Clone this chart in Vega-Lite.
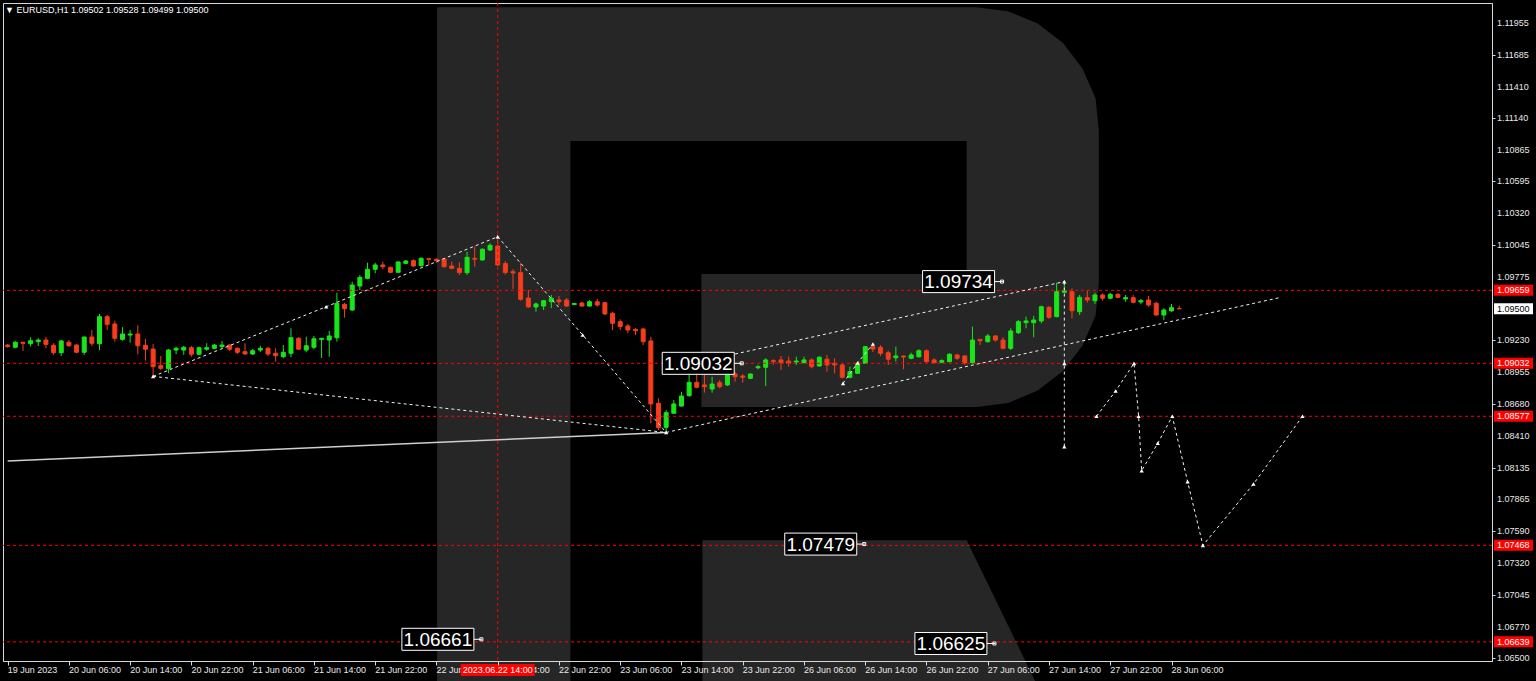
{
  "$schema": "https://vega.github.io/schema/vega-lite/v6.json",
  "width": 1489,
  "height": 658,
  "autosize": {"type": "none"},
  "padding": {"left": 3, "top": 3, "right": 44, "bottom": 20},
  "background": "#000000",
  "title": {"text": "▼ EURUSD,H1  1.09502 1.09528 1.09499 1.09500", "anchor": "start", "frame": "group", "orient": "top", "offset": 0, "baseline": "middle", "dy": 16, "dx": 2, "font": "Liberation Sans", "fontSize": 9, "fontWeight": "normal", "color": "#ffffff"},
  "config": {"view": {"stroke": "#d8d8d8", "fill": "#000000"}, "font": "Liberation Sans"},
  "datasets": {
    "wm": [
      {"part": "stem", "i": 48.09, "t": 1.12092, "b": 1.06302},
      {"part": "stem", "i": 65.5, "t": 1.12092, "b": 1.06302},
      {"part": "top", "i": 65.2, "t": 1.12092, "b": 1.10941},
      {"part": "top", "i": 117.4, "t": 1.12092, "b": 1.10941},
      {"part": "right", "i": 117.24, "t": 1.12092, "b": 1.08656},
      {"part": "right", "i": 118.54, "t": 1.12092, "b": 1.08656},
      {"part": "right", "i": 122.67, "t": 1.12056, "b": 1.08692},
      {"part": "right", "i": 126.52, "t": 1.11951, "b": 1.08798},
      {"part": "right", "i": 129.83, "t": 1.11783, "b": 1.08965},
      {"part": "right", "i": 132.36, "t": 1.11564, "b": 1.09184},
      {"part": "right", "i": 134.08, "t": 1.11309, "b": 1.0944},
      {"part": "right", "i": 134.5, "t": 1.11036, "b": 1.09713},
      {"part": "bowl", "i": 82.6, "t": 1.09799, "b": 1.08656},
      {"part": "bowl", "i": 117.4, "t": 1.09799, "b": 1.08656},
      {"part": "leg", "i": 82.73, "t": 1.07513, "b": 1.06302},
      {"part": "leg", "i": 117.24, "t": 1.07513, "b": 1.06302},
      {"part": "leg", "i": 126.19, "t": 1.06302, "b": 1.06302}
    ],
    "candles": [
      {"i": -8, "o": 1.09189, "h": 1.09198, "l": 1.09168, "c": 1.09175},
      {"i": -7, "o": 1.0917, "h": 1.09224, "l": 1.09161, "c": 1.09213},
      {"i": -6, "o": 1.09213, "h": 1.09215, "l": 1.09138, "c": 1.09204},
      {"i": -5, "o": 1.09201, "h": 1.09256, "l": 1.09175, "c": 1.09226},
      {"i": -4, "o": 1.09218, "h": 1.09247, "l": 1.09181, "c": 1.09232},
      {"i": -3, "o": 1.09232, "h": 1.09261, "l": 1.09161, "c": 1.09195},
      {"i": -2, "o": 1.09187, "h": 1.09204, "l": 1.09104, "c": 1.09123},
      {"i": -1, "o": 1.09123, "h": 1.09232, "l": 1.09095, "c": 1.09224},
      {"i": 0, "o": 1.09213, "h": 1.09232, "l": 1.09175, "c": 1.09183},
      {"i": 1, "o": 1.09189, "h": 1.09198, "l": 1.09118, "c": 1.09127},
      {"i": 2, "o": 1.09127, "h": 1.09261, "l": 1.09104, "c": 1.09258},
      {"i": 3, "o": 1.09258, "h": 1.09318, "l": 1.09181, "c": 1.09204},
      {"i": 4, "o": 1.09201, "h": 1.09456, "l": 1.09146, "c": 1.09433},
      {"i": 5, "o": 1.09433, "h": 1.09447, "l": 1.09318, "c": 1.09367},
      {"i": 6, "o": 1.0937, "h": 1.09398, "l": 1.09218, "c": 1.09247},
      {"i": 7, "o": 1.09238, "h": 1.09342, "l": 1.09226, "c": 1.09284},
      {"i": 8, "o": 1.09275, "h": 1.09318, "l": 1.09209, "c": 1.09284},
      {"i": 9, "o": 1.09284, "h": 1.09359, "l": 1.0911, "c": 1.09183},
      {"i": 10, "o": 1.09187, "h": 1.09241, "l": 1.09055, "c": 1.09153},
      {"i": 11, "o": 1.09155, "h": 1.09198, "l": 1.08923, "c": 1.09003},
      {"i": 12, "o": 1.09012, "h": 1.09095, "l": 1.08975, "c": 1.08989},
      {"i": 13, "o": 1.08986, "h": 1.09155, "l": 1.08946, "c": 1.09146},
      {"i": 14, "o": 1.09146, "h": 1.09175, "l": 1.0911, "c": 1.09161},
      {"i": 15, "o": 1.09146, "h": 1.09181, "l": 1.09104, "c": 1.0917},
      {"i": 16, "o": 1.09166, "h": 1.09181, "l": 1.09089, "c": 1.0911},
      {"i": 17, "o": 1.0911, "h": 1.09175, "l": 1.09104, "c": 1.09166},
      {"i": 18, "o": 1.09153, "h": 1.09204, "l": 1.0914, "c": 1.09166},
      {"i": 19, "o": 1.09161, "h": 1.09198, "l": 1.09153, "c": 1.09189},
      {"i": 20, "o": 1.09175, "h": 1.09224, "l": 1.09161, "c": 1.09189},
      {"i": 21, "o": 1.09189, "h": 1.09198, "l": 1.09138, "c": 1.09153},
      {"i": 22, "o": 1.09161, "h": 1.0917, "l": 1.09112, "c": 1.09127},
      {"i": 23, "o": 1.09132, "h": 1.09204, "l": 1.09104, "c": 1.09112},
      {"i": 24, "o": 1.09112, "h": 1.09155, "l": 1.09104, "c": 1.0914},
      {"i": 25, "o": 1.09146, "h": 1.09183, "l": 1.09127, "c": 1.09161},
      {"i": 26, "o": 1.09161, "h": 1.09175, "l": 1.09095, "c": 1.09112},
      {"i": 27, "o": 1.09118, "h": 1.09161, "l": 1.09046, "c": 1.09097},
      {"i": 28, "o": 1.09089, "h": 1.09189, "l": 1.09075, "c": 1.09127},
      {"i": 29, "o": 1.09118, "h": 1.09333, "l": 1.09084, "c": 1.09252},
      {"i": 30, "o": 1.09247, "h": 1.09256, "l": 1.09146, "c": 1.09153},
      {"i": 31, "o": 1.09146, "h": 1.09261, "l": 1.09127, "c": 1.09183},
      {"i": 32, "o": 1.0917, "h": 1.09267, "l": 1.09153, "c": 1.09243},
      {"i": 33, "o": 1.09238, "h": 1.0925, "l": 1.09078, "c": 1.09247},
      {"i": 34, "o": 1.09232, "h": 1.0931, "l": 1.09089, "c": 1.09267},
      {"i": 35, "o": 1.09252, "h": 1.09639, "l": 1.09218, "c": 1.09548},
      {"i": 36, "o": 1.09539, "h": 1.09553, "l": 1.09424, "c": 1.09501},
      {"i": 37, "o": 1.0949, "h": 1.09733, "l": 1.09482, "c": 1.09705},
      {"i": 38, "o": 1.09696, "h": 1.09791, "l": 1.09662, "c": 1.09771},
      {"i": 39, "o": 1.09762, "h": 1.09896, "l": 1.09754, "c": 1.0984},
      {"i": 40, "o": 1.0984, "h": 1.09896, "l": 1.09805, "c": 1.09877},
      {"i": 41, "o": 1.09877, "h": 1.09905, "l": 1.0984, "c": 1.09862},
      {"i": 42, "o": 1.09857, "h": 1.09862, "l": 1.09805, "c": 1.09814},
      {"i": 43, "o": 1.09814, "h": 1.09905, "l": 1.09811, "c": 1.09903},
      {"i": 44, "o": 1.09891, "h": 1.0992, "l": 1.09883, "c": 1.09911},
      {"i": 45, "o": 1.09914, "h": 1.09926, "l": 1.0986, "c": 1.09868},
      {"i": 46, "o": 1.09871, "h": 1.09943, "l": 1.09862, "c": 1.09934},
      {"i": 47, "o": 1.09931, "h": 1.09933, "l": 1.09877, "c": 1.09926},
      {"i": 48, "o": 1.09926, "h": 1.09934, "l": 1.09896, "c": 1.09914},
      {"i": 49, "o": 1.09928, "h": 1.09937, "l": 1.09854, "c": 1.09862},
      {"i": 50, "o": 1.09868, "h": 1.09905, "l": 1.0984, "c": 1.09848},
      {"i": 51, "o": 1.09848, "h": 1.099, "l": 1.09791, "c": 1.09811},
      {"i": 52, "o": 1.09811, "h": 1.09991, "l": 1.09791, "c": 1.09943},
      {"i": 53, "o": 1.09934, "h": 1.10034, "l": 1.09862, "c": 1.09926},
      {"i": 54, "o": 1.0992, "h": 1.1002, "l": 1.09914, "c": 1.10012},
      {"i": 55, "o": 1.10006, "h": 1.10063, "l": 1.09997, "c": 1.10046},
      {"i": 56, "o": 1.1004, "h": 1.1012, "l": 1.09868, "c": 1.09877},
      {"i": 57, "o": 1.0989, "h": 1.09911, "l": 1.09795, "c": 1.09812},
      {"i": 58, "o": 1.09819, "h": 1.09842, "l": 1.09671, "c": 1.09808},
      {"i": 59, "o": 1.09811, "h": 1.09894, "l": 1.0957, "c": 1.09582},
      {"i": 60, "o": 1.09593, "h": 1.09662, "l": 1.0951, "c": 1.09516},
      {"i": 61, "o": 1.09516, "h": 1.09553, "l": 1.09475, "c": 1.09542},
      {"i": 62, "o": 1.09524, "h": 1.09576, "l": 1.0949, "c": 1.0957},
      {"i": 63, "o": 1.09561, "h": 1.09619, "l": 1.09507, "c": 1.09591},
      {"i": 64, "o": 1.09576, "h": 1.0961, "l": 1.09533, "c": 1.09561},
      {"i": 65, "o": 1.09576, "h": 1.09593, "l": 1.09518, "c": 1.09524},
      {"i": 66, "o": 1.09537, "h": 1.0955, "l": 1.09533, "c": 1.09546},
      {"i": 67, "o": 1.0955, "h": 1.09561, "l": 1.09518, "c": 1.09524},
      {"i": 68, "o": 1.09524, "h": 1.09576, "l": 1.09518, "c": 1.09561},
      {"i": 69, "o": 1.09561, "h": 1.09585, "l": 1.09518, "c": 1.09533},
      {"i": 70, "o": 1.09553, "h": 1.09561, "l": 1.09447, "c": 1.09456},
      {"i": 71, "o": 1.09462, "h": 1.09475, "l": 1.09318, "c": 1.09376},
      {"i": 72, "o": 1.0939, "h": 1.0941, "l": 1.09318, "c": 1.09347},
      {"i": 73, "o": 1.09353, "h": 1.0937, "l": 1.0929, "c": 1.09318},
      {"i": 74, "o": 1.09324, "h": 1.09333, "l": 1.09275, "c": 1.09312},
      {"i": 75, "o": 1.09327, "h": 1.09338, "l": 1.09189, "c": 1.09218},
      {"i": 76, "o": 1.09224, "h": 1.09261, "l": 1.08517, "c": 1.08683},
      {"i": 77, "o": 1.08689, "h": 1.08732, "l": 1.08459, "c": 1.08479},
      {"i": 78, "o": 1.08482, "h": 1.08631, "l": 1.08431, "c": 1.08608},
      {"i": 79, "o": 1.08603, "h": 1.08717, "l": 1.08597, "c": 1.08683},
      {"i": 80, "o": 1.08665, "h": 1.08788, "l": 1.08659, "c": 1.08751},
      {"i": 81, "o": 1.08754, "h": 1.08951, "l": 1.08745, "c": 1.08869},
      {"i": 82, "o": 1.08869, "h": 1.08975, "l": 1.08817, "c": 1.08826},
      {"i": 83, "o": 1.08846, "h": 1.08975, "l": 1.0878, "c": 1.08831},
      {"i": 84, "o": 1.08811, "h": 1.08917, "l": 1.0878, "c": 1.08854},
      {"i": 85, "o": 1.08866, "h": 1.08889, "l": 1.08817, "c": 1.08831},
      {"i": 86, "o": 1.08846, "h": 1.09018, "l": 1.08837, "c": 1.0896},
      {"i": 87, "o": 1.0894, "h": 1.0896, "l": 1.08874, "c": 1.08917},
      {"i": 88, "o": 1.08923, "h": 1.0894, "l": 1.08866, "c": 1.08912},
      {"i": 89, "o": 1.08903, "h": 1.08946, "l": 1.08897, "c": 1.0894},
      {"i": 90, "o": 1.08994, "h": 1.09018, "l": 1.08981, "c": 1.09003},
      {"i": 91, "o": 1.08998, "h": 1.09075, "l": 1.08837, "c": 1.09061},
      {"i": 92, "o": 1.09055, "h": 1.09067, "l": 1.09018, "c": 1.09046},
      {"i": 93, "o": 1.09061, "h": 1.09095, "l": 1.08975, "c": 1.09037},
      {"i": 94, "o": 1.09052, "h": 1.09089, "l": 1.09003, "c": 1.09032},
      {"i": 95, "o": 1.09043, "h": 1.09089, "l": 1.09018, "c": 1.09052},
      {"i": 96, "o": 1.09037, "h": 1.09089, "l": 1.09032, "c": 1.09061},
      {"i": 97, "o": 1.09061, "h": 1.09075, "l": 1.08989, "c": 1.09003},
      {"i": 98, "o": 1.09009, "h": 1.09095, "l": 1.09003, "c": 1.09084},
      {"i": 99, "o": 1.09067, "h": 1.09104, "l": 1.0896, "c": 1.09018},
      {"i": 100, "o": 1.09032, "h": 1.09075, "l": 1.08946, "c": 1.09018},
      {"i": 101, "o": 1.09018, "h": 1.09032, "l": 1.08903, "c": 1.08912},
      {"i": 102, "o": 1.08912, "h": 1.09003, "l": 1.08903, "c": 1.0896},
      {"i": 103, "o": 1.08946, "h": 1.09046, "l": 1.0894, "c": 1.09032},
      {"i": 104, "o": 1.09032, "h": 1.09181, "l": 1.09026, "c": 1.09175},
      {"i": 105, "o": 1.09176, "h": 1.09198, "l": 1.09129, "c": 1.09155},
      {"i": 106, "o": 1.0917, "h": 1.09189, "l": 1.09095, "c": 1.09118},
      {"i": 107, "o": 1.09123, "h": 1.0914, "l": 1.09018, "c": 1.09067},
      {"i": 108, "o": 1.0908, "h": 1.09175, "l": 1.09046, "c": 1.09095},
      {"i": 109, "o": 1.09095, "h": 1.09099, "l": 1.08981, "c": 1.09086},
      {"i": 110, "o": 1.09075, "h": 1.09123, "l": 1.09067, "c": 1.09104},
      {"i": 111, "o": 1.09089, "h": 1.09153, "l": 1.0908, "c": 1.0914},
      {"i": 112, "o": 1.0914, "h": 1.09153, "l": 1.09037, "c": 1.09046},
      {"i": 113, "o": 1.09061, "h": 1.09075, "l": 1.09032, "c": 1.09037},
      {"i": 114, "o": 1.09041, "h": 1.09067, "l": 1.09032, "c": 1.09055},
      {"i": 115, "o": 1.09046, "h": 1.09118, "l": 1.09041, "c": 1.0911},
      {"i": 116, "o": 1.09104, "h": 1.09112, "l": 1.09061, "c": 1.09075},
      {"i": 117, "o": 1.09095, "h": 1.09104, "l": 1.09018, "c": 1.09037},
      {"i": 118, "o": 1.09037, "h": 1.09347, "l": 1.09032, "c": 1.09232},
      {"i": 119, "o": 1.09238, "h": 1.09241, "l": 1.09189, "c": 1.09226},
      {"i": 120, "o": 1.09218, "h": 1.09284, "l": 1.09209, "c": 1.09267},
      {"i": 121, "o": 1.09267, "h": 1.09275, "l": 1.09218, "c": 1.09232},
      {"i": 122, "o": 1.09232, "h": 1.09256, "l": 1.09153, "c": 1.09161},
      {"i": 123, "o": 1.09161, "h": 1.09333, "l": 1.09146, "c": 1.0931},
      {"i": 124, "o": 1.09295, "h": 1.09404, "l": 1.09284, "c": 1.0939},
      {"i": 125, "o": 1.09381, "h": 1.09433, "l": 1.09333, "c": 1.09396},
      {"i": 126, "o": 1.09381, "h": 1.09439, "l": 1.09256, "c": 1.09404},
      {"i": 127, "o": 1.09396, "h": 1.09527, "l": 1.09376, "c": 1.09518},
      {"i": 128, "o": 1.09513, "h": 1.09524, "l": 1.09413, "c": 1.09427},
      {"i": 129, "o": 1.09433, "h": 1.09725, "l": 1.09427, "c": 1.09647},
      {"i": 130, "o": 1.09642, "h": 1.09734, "l": 1.09636, "c": 1.09656},
      {"i": 131, "o": 1.09647, "h": 1.09677, "l": 1.09419, "c": 1.09484},
      {"i": 132, "o": 1.09475, "h": 1.09619, "l": 1.09447, "c": 1.09599},
      {"i": 133, "o": 1.09596, "h": 1.09662, "l": 1.09553, "c": 1.09576},
      {"i": 134, "o": 1.0957, "h": 1.09639, "l": 1.09542, "c": 1.09619},
      {"i": 135, "o": 1.09619, "h": 1.09634, "l": 1.0957, "c": 1.09591},
      {"i": 136, "o": 1.09591, "h": 1.09639, "l": 1.09582, "c": 1.09625},
      {"i": 137, "o": 1.09625, "h": 1.09634, "l": 1.09591, "c": 1.09599},
      {"i": 138, "o": 1.09585, "h": 1.09619, "l": 1.09561, "c": 1.09596},
      {"i": 139, "o": 1.09596, "h": 1.09619, "l": 1.09548, "c": 1.09556},
      {"i": 140, "o": 1.09559, "h": 1.09585, "l": 1.09539, "c": 1.0957},
      {"i": 141, "o": 1.09576, "h": 1.0961, "l": 1.09518, "c": 1.09533},
      {"i": 142, "o": 1.09548, "h": 1.09561, "l": 1.09441, "c": 1.09447},
      {"i": 143, "o": 1.09447, "h": 1.09505, "l": 1.09404, "c": 1.0949},
      {"i": 144, "o": 1.09482, "h": 1.09542, "l": 1.09475, "c": 1.0951},
      {"i": 145, "o": 1.09502, "h": 1.09528, "l": 1.09499, "c": 1.095}
    ],
    "hl": [{"p": 1.09659}, {"p": 1.09032}, {"p": 1.08577}, {"p": 1.07468}, {"p": 1.06639}],
    "vl": [{"i": 56}],
    "trend": [{"i": -8, "p": 1.08193}, {"i": 78, "p": 1.08438}],
    "segs": [
      {"s": 1, "o": 1, "i": 11, "p": 1.0892}, {"s": 1, "o": 2, "i": 33.6, "p": 1.09518}, {"s": 1, "o": 3, "i": 56, "p": 1.1012},
      {"s": 2, "o": 1, "i": 56, "p": 1.1012}, {"s": 2, "o": 2, "i": 67.1, "p": 1.09275}, {"s": 2, "o": 3, "i": 78, "p": 1.08438},
      {"s": 3, "o": 1, "i": 11, "p": 1.0892}, {"s": 3, "o": 2, "i": 78, "p": 1.08438},
      {"s": 4, "o": 1, "i": 87, "p": 1.09112}, {"s": 4, "o": 2, "i": 130, "p": 1.09734},
      {"s": 5, "o": 1, "i": 78, "p": 1.08438}, {"s": 5, "o": 2, "i": 158.1, "p": 1.09596},
      {"s": 6, "o": 1, "i": 101.1, "p": 1.0886}, {"s": 6, "o": 2, "i": 103, "p": 1.09035}, {"s": 6, "o": 3, "i": 105, "p": 1.09198},
      {"s": 7, "o": 1, "i": 130, "p": 1.09734}, {"s": 7, "o": 2, "i": 130, "p": 1.08316},
      {"s": 8, "o": 1, "i": 134.2, "p": 1.08577}, {"s": 8, "o": 2, "i": 136.7, "p": 1.08794}, {"s": 8, "o": 3, "i": 139.1, "p": 1.09032},
      {"s": 8, "o": 4, "i": 139.7, "p": 1.08577}, {"s": 8, "o": 5, "i": 140.1, "p": 1.0811}, {"s": 8, "o": 6, "i": 142.2, "p": 1.08345},
      {"s": 8, "o": 7, "i": 144.1, "p": 1.08577}, {"s": 8, "o": 8, "i": 146.1, "p": 1.08015}, {"s": 8, "o": 9, "i": 148.1, "p": 1.07468},
      {"s": 8, "o": 10, "i": 154.7, "p": 1.07995}, {"s": 8, "o": 11, "i": 161.1, "p": 1.08577}
    ],
    "marks": [
      {"i": 11, "p": 1.0892}, {"i": 33.6, "p": 1.09518}, {"i": 56, "p": 1.1012}, {"i": 67.1, "p": 1.09275}, {"i": 78, "p": 1.08438},
      {"i": 101.1, "p": 1.0886}, {"i": 103, "p": 1.09035}, {"i": 105, "p": 1.09198},
      {"i": 130, "p": 1.09734}, {"i": 130, "p": 1.09032}, {"i": 130, "p": 1.08316},
      {"i": 134.2, "p": 1.08577}, {"i": 136.7, "p": 1.08794}, {"i": 139.1, "p": 1.09032}, {"i": 139.7, "p": 1.08577},
      {"i": 140.1, "p": 1.0811}, {"i": 142.2, "p": 1.08345}, {"i": 144.1, "p": 1.08577}, {"i": 146.1, "p": 1.08015},
      {"i": 148.1, "p": 1.07468}, {"i": 154.7, "p": 1.07995}, {"i": 161.1, "p": 1.08577}
    ],
    "big": [
      {"i": 122, "p": 1.09734, "t": "1.09734"},
      {"i": 88, "p": 1.09032, "t": "1.09032"},
      {"i": 104, "p": 1.07479, "t": "1.07479"},
      {"i": 54, "p": 1.06661, "t": "1.06661"},
      {"i": 121, "p": 1.06625, "t": "1.06625"}
    ],
    "tags": [
      {"p": 1.09659, "t": "1.09659", "k": "r"},
      {"p": 1.09032, "t": "1.09032", "k": "r"},
      {"p": 1.08577, "t": "1.08577", "k": "r"},
      {"p": 1.07468, "t": "1.07468", "k": "r"},
      {"p": 1.06639, "t": "1.06639", "k": "r"},
      {"p": 1.095, "t": "1.09500", "k": "w"}
    ],
    "yl": [
      {"p": 1.11955, "t": "1.11955"}, {"p": 1.11685, "t": "1.11685"}, {"p": 1.1141, "t": "1.11410"}, {"p": 1.1114, "t": "1.11140"},
      {"p": 1.10865, "t": "1.10865"}, {"p": 1.10595, "t": "1.10595"}, {"p": 1.1032, "t": "1.10320"}, {"p": 1.10045, "t": "1.10045"},
      {"p": 1.09775, "t": "1.09775"}, {"p": 1.0923, "t": "1.09230"}, {"p": 1.08955, "t": "1.08955"}, {"p": 1.0868, "t": "1.08680"},
      {"p": 1.0841, "t": "1.08410"}, {"p": 1.08135, "t": "1.08135"}, {"p": 1.07865, "t": "1.07865"}, {"p": 1.0759, "t": "1.07590"},
      {"p": 1.0732, "t": "1.07320"}, {"p": 1.07045, "t": "1.07045"}, {"p": 1.0677, "t": "1.06770"}, {"p": 1.065, "t": "1.06500"}
    ],
    "dt": [{"i": 56, "t": "2023.06.22 14:00"}],
    "xl": [
      {"i": -8, "t": "19 Jun 2023"}, {"i": 0, "t": "20 Jun 06:00"}, {"i": 8, "t": "20 Jun 14:00"}, {"i": 16, "t": "20 Jun 22:00"},
      {"i": 24, "t": "21 Jun 06:00"}, {"i": 32, "t": "21 Jun 14:00"}, {"i": 40, "t": "21 Jun 22:00"}, {"i": 48, "t": "22 Jun 06:00"},
      {"i": 56, "t": "22 Jun 14:00"}, {"i": 64, "t": "22 Jun 22:00"}, {"i": 72, "t": "23 Jun 06:00"}, {"i": 80, "t": "23 Jun 14:00"},
      {"i": 88, "t": "23 Jun 22:00"}, {"i": 96, "t": "26 Jun 06:00"}, {"i": 104, "t": "26 Jun 14:00"}, {"i": 112, "t": "26 Jun 22:00"},
      {"i": 120, "t": "27 Jun 06:00"}, {"i": 128, "t": "27 Jun 14:00"}, {"i": 136, "t": "27 Jun 22:00"}, {"i": 144, "t": "28 Jun 06:00"}
    ]
  },
  "layer": [
    {
      "data": {"name": "wm"},
      "mark": {"type": "area", "orient": "vertical", "clip": false, "color": "#262626", "strokeWidth": 0},
      "encoding": {
        "x": {"field": "i", "type": "quantitative", "title": null, "scale": {"domain": [-7.953, 185.2], "nice": false, "zero": false},
          "axis": {"orient": "bottom", "values": [-8, 0, 8, 16, 24, 32, 40, 48, 56, 64, 72, 80, 88, 96, 104, 112, 120, 128, 136, 144], "labels": false, "ticks": true, "tickSize": 4, "tickColor": "#d8d8d8", "domainColor": "#d8d8d8", "grid": false, "title": null, "zindex": 1}},
        "y": {"field": "t", "type": "quantitative", "title": null, "scale": {"domain": [1.064746, 1.121275], "nice": false, "zero": false},
          "axis": {"orient": "right", "values": [1.11955, 1.11685, 1.1141, 1.1114, 1.10865, 1.10595, 1.1032, 1.10045, 1.09775, 1.0923, 1.08955, 1.0868, 1.0841, 1.08135, 1.07865, 1.0759, 1.0732, 1.07045, 1.0677, 1.065], "labels": false, "tickSize": 3, "tickColor": "#d8d8d8", "domainColor": "#d8d8d8", "grid": false, "title": null, "zindex": 0}},
        "y2": {"field": "b"},
        "detail": {"field": "part"}
      }
    },
    {
      "data": {"name": "trend"},
      "mark": {"type": "line", "clip": true, "color": "#cfcfcf", "strokeWidth": 1.5},
      "encoding": {
        "x": {"field": "i", "type": "quantitative", "title": null, "scale": {"domain": [-7.953, 185.2], "nice": false, "zero": false}},
        "y": {"field": "p", "type": "quantitative", "title": null, "scale": {"domain": [1.064746, 1.121275], "nice": false, "zero": false}}
      }
    },
    {
      "data": {"name": "candles"},
      "mark": {"type": "rule", "clip": true, "strokeWidth": 1},
      "encoding": {
        "x": {"field": "i", "type": "quantitative", "title": null, "scale": {"domain": [-7.953, 185.2], "nice": false, "zero": false}},
        "y": {"field": "h", "type": "quantitative", "title": null, "scale": {"domain": [1.064746, 1.121275], "nice": false, "zero": false}},
        "y2": {"field": "l"},
        "stroke": {"condition": {"test": "datum.c >= datum.o", "value": "#19e619"}, "value": "#f4401c"}
      }
    },
    {
      "data": {"name": "candles"},
      "mark": {"type": "bar", "clip": true, "width": 4, "strokeWidth": 1},
      "encoding": {
        "x": {"field": "i", "type": "quantitative", "title": null, "scale": {"domain": [-7.953, 185.2], "nice": false, "zero": false}},
        "y": {"field": "o", "type": "quantitative", "title": null, "scale": {"domain": [1.064746, 1.121275], "nice": false, "zero": false}},
        "y2": {"field": "c"},
        "fill": {"condition": {"test": "datum.c >= datum.o", "value": "#19e619"}, "value": "#ff3a1a"},
        "stroke": {"condition": {"test": "datum.c >= datum.o", "value": "#19e619"}, "value": "#e8401c"}
      }
    },
    {
      "data": {"name": "hl"},
      "mark": {"type": "rule", "color": "#ff0000", "strokeDash": [3, 3], "strokeWidth": 1},
      "encoding": {
        "y": {"field": "p", "type": "quantitative", "title": null, "scale": {"domain": [1.064746, 1.121275], "nice": false, "zero": false}}
      }
    },
    {
      "data": {"name": "vl"},
      "mark": {"type": "rule", "color": "#ff0000", "strokeDash": [3, 3], "strokeWidth": 1},
      "encoding": {
        "x": {"field": "i", "type": "quantitative", "title": null, "scale": {"domain": [-7.953, 185.2], "nice": false, "zero": false}}
      }
    },
    {
      "data": {"name": "segs"},
      "mark": {"type": "line", "clip": true, "color": "#f2f2f2", "strokeWidth": 1, "strokeDash": [3, 3]},
      "encoding": {
        "x": {"field": "i", "type": "quantitative", "title": null, "scale": {"domain": [-7.953, 185.2], "nice": false, "zero": false}},
        "y": {"field": "p", "type": "quantitative", "title": null, "scale": {"domain": [1.064746, 1.121275], "nice": false, "zero": false}},
        "detail": {"field": "s"},
        "order": {"field": "o"}
      }
    },
    {
      "data": {"name": "marks"},
      "mark": {"type": "point", "shape": "triangle-up", "size": 18, "filled": true, "color": "#ffffff", "opacity": 1},
      "encoding": {
        "x": {"field": "i", "type": "quantitative", "title": null, "scale": {"domain": [-7.953, 185.2], "nice": false, "zero": false}},
        "y": {"field": "p", "type": "quantitative", "title": null, "scale": {"domain": [1.064746, 1.121275], "nice": false, "zero": false}}
      }
    },
    {
      "data": {"name": "big"},
      "mark": {"type": "point", "shape": "M-8.05,-1.1H-0.85V1.1H-8.05Z M-0.85,0H0 M-0.25,-0.15H0.05V0.15H-0.25Z", "size": 400, "filled": true, "fill": "#000000", "stroke": "#ffffff", "strokeWidth": 1, "opacity": 1},
      "encoding": {
        "x": {"field": "i", "type": "quantitative", "title": null, "scale": {"domain": [-7.953, 185.2], "nice": false, "zero": false}},
        "y": {"field": "p", "type": "quantitative", "title": null, "scale": {"domain": [1.064746, 1.121275], "nice": false, "zero": false}}
      }
    },
    {
      "data": {"name": "big"},
      "mark": {"type": "text", "align": "center", "baseline": "middle", "dx": -44.5, "dy": 0.5, "font": "Liberation Sans", "fontSize": 19, "color": "#ffffff"},
      "encoding": {
        "x": {"field": "i", "type": "quantitative", "title": null, "scale": {"domain": [-7.953, 185.2], "nice": false, "zero": false}},
        "y": {"field": "p", "type": "quantitative", "title": null, "scale": {"domain": [1.064746, 1.121275], "nice": false, "zero": false}},
        "text": {"field": "t"}
      }
    },
    {
      "data": {"name": "xl"},
      "mark": {"type": "text", "align": "left", "baseline": "middle", "dx": 0, "dy": 9, "font": "Liberation Sans", "fontSize": 9, "color": "#e8e8e8", "clip": false},
      "encoding": {
        "x": {"field": "i", "type": "quantitative", "title": null, "scale": {"domain": [-7.953, 185.2], "nice": false, "zero": false}},
        "y": {"value": "height"},
        "text": {"field": "t"}
      }
    },
    {
      "data": {"name": "yl"},
      "mark": {"type": "text", "align": "left", "baseline": "middle", "dx": 5, "font": "Liberation Sans", "fontSize": 9, "color": "#e8e8e8", "clip": false},
      "encoding": {
        "x": {"value": "width"},
        "y": {"field": "p", "type": "quantitative", "title": null, "scale": {"domain": [1.064746, 1.121275], "nice": false, "zero": false}},
        "text": {"field": "t"}
      }
    },
    {
      "data": {"name": "tags"},
      "mark": {"type": "point", "shape": "M0.2,-0.55H4.1V0.55H0.2Z", "size": 400, "filled": true, "strokeWidth": 0, "opacity": 1},
      "encoding": {
        "x": {"value": "width"},
        "y": {"field": "p", "type": "quantitative", "title": null, "scale": {"domain": [1.064746, 1.121275], "nice": false, "zero": false}},
        "fill": {"condition": {"test": "datum.k === 'w'", "value": "#ffffff"}, "value": "#ff0000"}
      }
    },
    {
      "data": {"name": "tags"},
      "mark": {"type": "text", "align": "left", "baseline": "middle", "dx": 5, "font": "Liberation Sans", "fontSize": 9},
      "encoding": {
        "x": {"value": "width"},
        "y": {"field": "p", "type": "quantitative", "title": null, "scale": {"domain": [1.064746, 1.121275], "nice": false, "zero": false}},
        "text": {"field": "t"},
        "fill": {"condition": {"test": "datum.k === 'w'", "value": "#000000"}, "value": "#ffffff"}
      }
    },
    {
      "data": {"name": "dt"},
      "mark": {"type": "point", "shape": "M-3.7,0.3H3.7V1.5H-3.7Z", "size": 400, "filled": true, "strokeWidth": 0, "fill": "#ff0000", "opacity": 1},
      "encoding": {
        "x": {"field": "i", "type": "quantitative", "title": null, "scale": {"domain": [-7.953, 185.2], "nice": false, "zero": false}},
        "y": {"value": "height"}
      }
    },
    {
      "data": {"name": "dt"},
      "mark": {"type": "text", "align": "center", "baseline": "middle", "dy": 9, "font": "Liberation Sans", "fontSize": 9, "color": "#ffffff"},
      "encoding": {
        "x": {"field": "i", "type": "quantitative", "title": null, "scale": {"domain": [-7.953, 185.2], "nice": false, "zero": false}},
        "y": {"value": "height"},
        "text": {"field": "t"}
      }
    }
  ]
}
